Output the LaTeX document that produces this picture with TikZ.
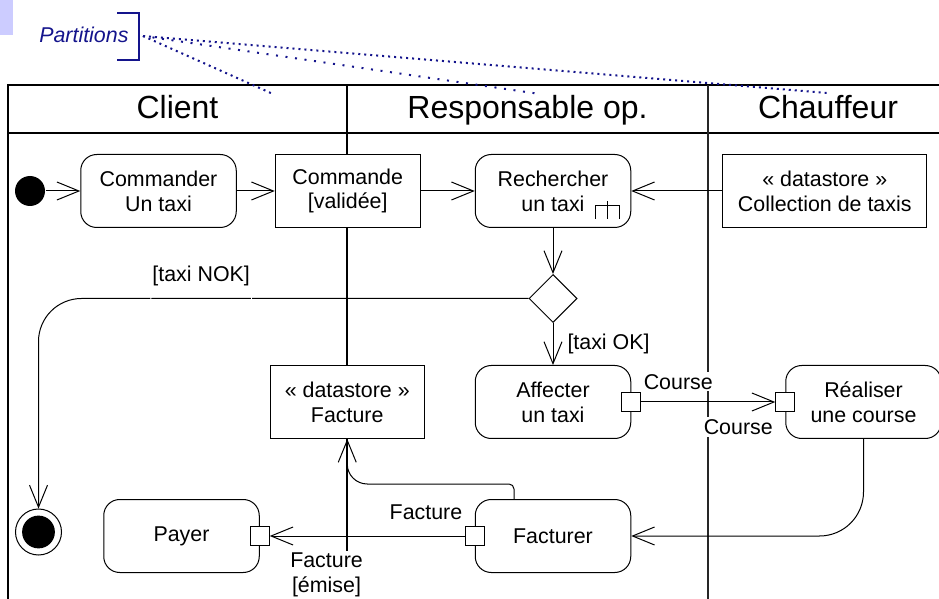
\documentclass[tikz,border=0pt]{standalone}
\usepackage{fontspec}
\setmainfont{Liberation Sans}
\usetikzlibrary{arrows.meta,positioning,shapes.geometric}
\definecolor{partblue}{RGB}{20,20,140}
\definecolor{partbg}{RGB}{204,204,255}
\tikzstyle{flow}=[->,>={Straight Barb[length=11pt,width=9pt]}]
\tikzstyle{action}=[rectangle,rounded corners=8pt,draw,fill=white,align=center,minimum width=77.75pt,minimum height=36.5pt,inner sep=0pt]
\tikzstyle{object}=[rectangle,draw,fill=white,align=center,minimum height=36.5pt,inner sep=0pt]
\tikzstyle{pinbox}=[rectangle,draw,fill=white,minimum size=9.5pt,inner sep=0pt]
\tikzstyle{decision}=[diamond,draw,fill=white,minimum width=24pt,minimum height=24pt,inner sep=0pt]
\tikzstyle{startnode}=[circle,fill=black,minimum size=15pt,inner sep=0pt]
\tikzstyle{endnode}=[circle,draw,fill=white,minimum size=23pt,inner sep=0pt,path picture={\fill[black] (path picture bounding box.center) circle (8.2pt);}]
\tikzstyle{lbl}=[fill=white,inner sep=1pt,align=center]
\tikzstyle{lane}=[anchor=base,font=\fontsize{16}{19}\selectfont]
\tikzstyle{swim}=[line width=0.6pt]
\tikzstyle{partline}=[partblue,line width=1pt,dash pattern=on 1pt off 2pt]

\begin{document}
\begin{tikzpicture}[x=0.5pt,y=-0.5pt,line width=0.5pt,font=\fontsize{10.7}{12.4}\selectfont]
            \useasboundingbox (0,0) rectangle (939,599);
            \fill[partbg] (0,0) rectangle (13,35);
            \node (part) [anchor=base east,inner sep=0pt,text=partblue,font=\fontsize{10.7}{12.4}\selectfont\itshape] at (129,43) {Partitions};
            \draw[partblue,line width=1pt] (117,13) -- (139,13) -- (139,60) -- (117,60);
            \coordinate (brk) at (143,36);
            \coordinate (pa) at (273,94);
            \coordinate (pb) at (540,94);
            \coordinate (pc) at (827,93);

            \draw[swim] (8,599) -- (8,85) -- (939,85) (8,133) -- (939,133) (347,85) -- (347,599);
            \draw[swim,line width=1pt,black!85] (708,85) -- (708,599);
            \node (client) [lane] at (177.5,119) {Client};
            \node (resp) [lane] at (527.5,119) {Responsable op.};
            \node (chauf) [lane] at (828,119) {Chauffeur};

            \draw[partline] (brk) -- (pa);
            \draw[partline,dash pattern=on 1pt off 3.8pt] (brk) -- (pb);
            \draw[partline] (brk) -- (pc);

            \node (init) [startnode] at (30,191) {};
            \node (cmdr) [action] at (158.5,191) {Commander\\Un taxi};
            \node (cmd) [object,minimum width=72.5pt,right=19pt of cmdr] {Commande\\ {[validée]}};
            \node (rech) [action,right=27pt of cmd] {Rechercher\\un taxi};
            \node (coll) [object,minimum width=102pt,right=45.5pt of rech] {« datastore »\\Collection de taxis};
            \node (dec) [decision,below=23pt of rech] {};
            \node (aff) [action,below=21pt of dec] {Affecter\\un taxi};
            \node (real) [action,right=77pt of aff] {Réaliser\\une course};
            \node (fact) [object,minimum width=77pt,left=25pt of aff] {« datastore »\\Facture};
            \node (fctr) [action,below=30pt of aff] {Facturer};
            \node (pay) [action,left=107.5pt of fctr] {Payer};
            \node (fin) [endnode] at (38.5,532) {};

            \node (affout) [pinbox] at (aff.east) {};
            \node (realin) [pinbox] at (real.west) {};
            \node (fctrout) [pinbox] at (fctr.west) {};
            \node (payin) [pinbox] at (pay.east) {};

            \draw ([shift={(-36,-9)}]rech.south east) -- ++(0,-13) -- ++(24,0) -- ++(0,13) ([shift={(-24,-9)}]rech.south east) -- ++(0,-18);

            \path[flow] (init) edge (cmdr);
            \path[flow] (cmdr) edge (cmd);
            \path[flow] (cmd) edge (rech);
            \path[flow] (coll) edge (rech);
            \path[flow] (rech) edge (dec);
            \path[flow] (dec) edge node[lbl,right=6pt] {[taxi OK]} (aff);
            \draw[flow,rounded corners=21.5pt] (dec.west) -| node[lbl,pos=0.334,above=5pt] {[taxi NOK]} (fin.north);
            \path[flow] (affout) edge (realin);
            \draw[flow,rounded corners=22pt] (real.south) |- (fctr.east);
            \path[flow] (fctrout) edge (payin);
            \draw[flow] ([xshift=-19.5pt]fctr.north) [rounded corners=2.5pt] -- ++(0,-15) coordinate (fk) [rounded corners=10pt] -- (fact.south |- fk) -- (fact.south);

            \node (crs1) [lbl,anchor=south west] at (affout.north east) {Course};
            \node (crs2) [lbl,anchor=north east,yshift=-2.5pt] at (realin.south west) {Course};
            \node (fac1) [lbl,anchor=south east,yshift=2pt] at (fctrout.north west) {Facture};
            \node (fac2) [lbl,anchor=north west,xshift=9pt,yshift=-2.25pt] at (payin.south east) {Facture\\ {[émise]}};
\end{tikzpicture}
\end{document}
